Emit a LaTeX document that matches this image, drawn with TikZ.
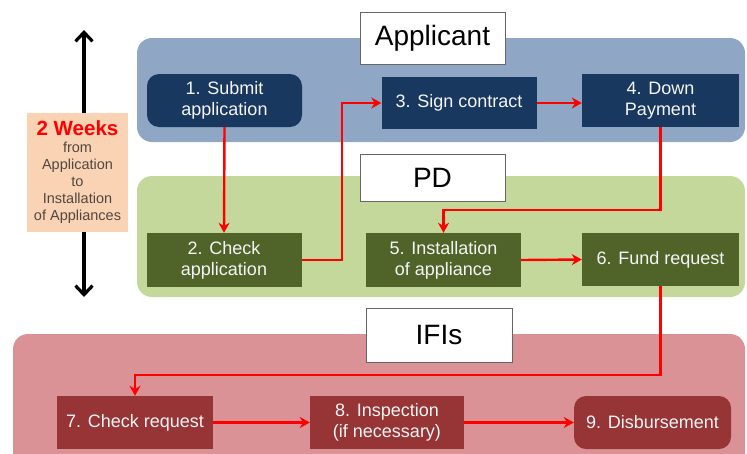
\documentclass[tikz,border=0pt]{standalone}
\usepackage{fontspec}
\setmainfont{Liberation Sans}
\usetikzlibrary{arrows.meta}
\definecolor{bandblue}{RGB}{143,166,196}
\definecolor{bandgreen}{RGB}{196,216,156}
\definecolor{bandred}{RGB}{218,146,150}
\definecolor{stepblue}{RGB}{24,56,96}
\definecolor{stepgreen}{RGB}{80,100,42}
\definecolor{stepred}{RGB}{150,52,54}
\definecolor{peach}{RGB}{250,210,180}
\definecolor{notegray}{RGB}{80,72,64}
\tikzset{
  stepbox/.style={minimum width=155pt,minimum height=53pt,inner sep=0pt,align=center,
    text=white!92!gray,font=\fontsize{18}{21}\selectfont},
  actorbox/.style={draw=black!60,line width=0.8pt,fill=white,minimum width=145pt,
    minimum height=52pt,inner sep=0pt,font=\fontsize{28}{32}\selectfont},
  flow/.style={red,line width=2.4pt,-{Stealth[length=10pt,width=11pt]}},
}
\begin{document}
\begin{tikzpicture}[x=1pt,y=-1pt]
   \useasboundingbox (0,0) rectangle (747,453);
   % swim lanes
   \fill[bandblue,rounded corners=15pt] (137,38) rectangle (745,142);
   \fill[bandgreen,rounded corners=15pt] (137,176) rectangle (745,297);
   \fill[bandred,rounded corners=15pt] (13,334) rectangle (745,480);
   \node[actorbox] (applicant) at (432.5,38) {Applicant};
   \node[actorbox,minimum height=47pt] (pd) at (432.5,178) {PD};
   \node[actorbox,minimum width=146pt,minimum height=54pt] (ifis) at (439,335) {IFIs};
   % time span
   \coordinate (top) at (84,30);
   \coordinate (bottom) at (84,297);
   \draw[line width=3.2pt,{Straight Barb[length=9pt,width=17pt]}-{Straight Barb[length=9pt,width=17pt]}] (top) -- (bottom);
   \node[fill=peach,minimum width=101pt,minimum height=119pt,inner sep=0pt,align=center,
     text=notegray,font=\fontsize{14.5}{17}\selectfont] (span) at (77.5,172.5)
     {{\color{red}\fontsize{20.5}{21}\selectfont\bfseries 2 Weeks}\\from\\Application\\to\\Installation\\of Appliances};
   % steps
   \node[stepbox,fill=stepblue,rounded corners=12pt] (submit) at (224.5,100.5) {1. Submit\\application};
   \node[stepbox,fill=stepblue,minimum height=52pt] (sign) at (459,103) {3. Sign contract};
   \node[stepbox,fill=stepblue,minimum width=157pt] (down) at (660.5,100.5) {4. Down\\Payment};
   \node[stepbox,fill=stepgreen,minimum height=54pt] (check) at (224,260) {2. Check\\application};
   \node[stepbox,fill=stepgreen,minimum height=54pt] (install) at (443.5,260) {5. Installation\\of appliance};
   \node[stepbox,fill=stepgreen,minimum width=157pt] (fund) at (660.5,259.5) {6. Fund request};
   \node[stepbox,fill=stepred,minimum width=156pt] (checkreq) at (135,422.5) {7. Check request};
   \node[stepbox,fill=stepred,minimum width=154pt] (inspect) at (387,422.5) {8. Inspection\\(if necessary)};
   \node[stepbox,fill=stepred,minimum width=157pt,rounded corners=12pt] (disburse) at (652.5,422.5) {9. Disbursement};
   % flow
   \draw[flow] (submit.south) -- (check.north);
   \draw[flow] (check.east) -- ++(40,0) |- (sign.west);
   \draw[flow] (sign.east) -- (sign.east -| down.west);
   \draw[flow] (down.south) -- ++(0,83) -| (install.north);
   \draw[flow] (install.east) -- (fund.west);
   \draw[flow] (fund.south) -- ++(0,89) -| (checkreq.north);
   \draw[flow] (checkreq.east) -- (inspect.west);
   \draw[flow] (inspect.east) -- (disburse.west);
\end{tikzpicture}
\end{document}
